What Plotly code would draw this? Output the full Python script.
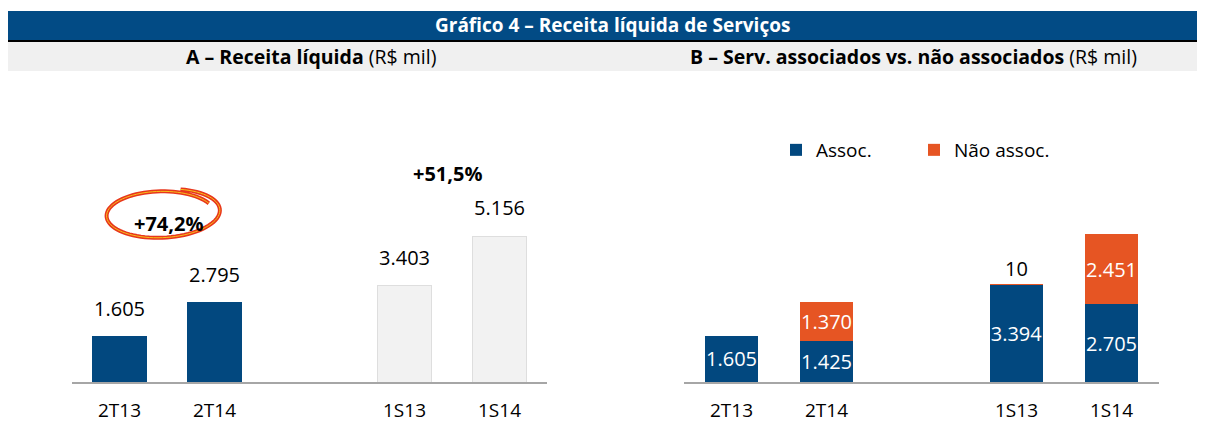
import math
import plotly.graph_objects as go

# ---------------- data ----------------
categories = ['2T13', '2T14', ' ', '1S13', '1S14']
receita = [1605, 2795, None, 3403, 5156]
assoc = [1605, 1425, None, 3394, 2705]
nao_assoc = [0, 1370, None, 10, 2451]
growth_q = '+74,2%'
growth_s = '+51,5%'
series_names = ['Assoc.', 'Não assoc.']

# ---------------- helpers ----------------
OFF = 8                      # page body margin
W, H = 1205 - OFF, 422 - OFF
FONT = 'Open Sans'
BLUE = '#02487f'
ORANGE = '#e65523'
LIGHT = '#f2f2f2'


def px(x):
    return (x - OFF) / W


def py(y):
    return 1 - (y - OFF) / H


def fmt(v):
    return f"{v:,}".replace(',', '.')


fig = go.Figure()

# Panel A
left_colors = [BLUE, BLUE, LIGHT, LIGHT, LIGHT]
left_lines = [BLUE, BLUE, '#dedede', '#dedede', '#dedede']
fig.add_trace(go.Bar(
    x=categories, y=receita, width=0.56,
    marker=dict(color=left_colors, line=dict(color=left_lines, width=1)),
    xaxis='x', yaxis='y', showlegend=False, hoverinfo='skip'))


# Panel B
def inside_txt(vals):
    return [fmt(v) if (v is not None and v >= 500) else '' for v in vals]


for vals, name, col in [(assoc, series_names[0], BLUE), (nao_assoc, series_names[1], ORANGE)]:
    fig.add_trace(go.Bar(
        x=categories, y=vals, width=0.56, name=name,
        marker=dict(color=col, line=dict(width=0)),
        text=inside_txt(vals), textposition='inside', insidetextanchor='middle',
        textangle=0, constraintext='none',
        insidetextfont=dict(color='white', size=20, family=FONT),
        xaxis='x2', yaxis='y2', hoverinfo='skip'))

annotations = []
# value labels above bars in panel A
for c, v in zip(categories, receita):
    if v is None:
        continue
    annotations.append(dict(x=c, y=v, xref='x', yref='y', text=fmt(v),
                            showarrow=False, yanchor='bottom', yshift=13,
                            font=dict(size=20, color='#000000', family=FONT)))
# small segment labels above bars in panel B
for c, a, n in zip(categories, assoc, nao_assoc):
    if n is None or n == 0 or n >= 500:
        continue
    annotations.append(dict(x=c, y=a + n, xref='x2', yref='y2', text=fmt(n),
                            showarrow=False, yanchor='bottom', yshift=0,
                            font=dict(size=20, color='#000000', family=FONT)))


def paper_text(x, y, text, size, color='#000000'):
    return dict(x=px(x), y=py(y), xref='paper', yref='paper', text=text,
                showarrow=False, xanchor='center', yanchor='middle',
                font=dict(size=size, color=color, family=FONT))


annotations.append(paper_text(168, 223, f'<b>{growth_q}</b>', 20))
annotations.append(paper_text(447, 173, f'<b>{growth_s}</b>', 20))
annotations.append(paper_text(612, 25.5, '<b>Gráfico 4 – Receita líquida de Serviços</b>', 19, 'white'))
annotations.append(paper_text(311, 57, '<b>A – Receita líquida</b> (R$ mil)', 19.5))
annotations.append(paper_text(913, 57, '<b>B – Serv. associados vs. não associados</b> (R$ mil)', 19.5))

shapes = [
    dict(type='rect', xref='paper', yref='paper', x0=px(7), x1=px(1200),
         y0=py(40), y1=py(11), fillcolor='#024b85', line=dict(width=0), layer='below'),
    dict(type='rect', xref='paper', yref='paper', x0=px(7), x1=px(1200),
         y0=py(42), y1=py(40), fillcolor='#000000', line=dict(width=0), layer='below'),
    dict(type='rect', xref='paper', yref='paper', x0=px(7), x1=px(1200),
         y0=py(71), y1=py(42), fillcolor='#f0f0f0', line=dict(width=0), layer='below'),
]

# hand-drawn circle around the quarterly growth label
cx, cy, rx, ry = 162, 214, 55, 23
pts = []
n = 90
start, total = -0.5, 2 * math.pi + 0.75
for i in range(n + 1):
    s = i / n
    t = start - total * s
    f = 0.97 + 0.10 * s
    x = cx + rx * f * math.cos(t)
    y = cy + ry * f * math.sin(t) - 4 * math.cos(t) * s
    pts.append((x, y))
path = 'M ' + ' L '.join(f'{px(x):.5f},{py(y):.5f}' for x, y in pts)
shapes.append(dict(type='path', xref='paper', yref='paper', path=path,
                   line=dict(color='#e8361c', width=4)))
shapes.append(dict(type='path', xref='paper', yref='paper', path=path,
                   line=dict(color='#f7c21a', width=1)))

common_x = dict(type='category', categoryorder='array', categoryarray=categories,
                range=[-0.5, 4.5], showline=True, linecolor='#a6a6a6', linewidth=2,
                ticks='', showgrid=False, zeroline=False, fixedrange=True,
                tickfont=dict(size=19, color='#000000', family=FONT),
                ticklabelstandoff=10)
common_y = dict(visible=False, showgrid=False, zeroline=False, fixedrange=True)

fig.update_layout(
    width=W, height=H, margin=dict(l=0, r=0, t=0, b=0),
    paper_bgcolor='white', plot_bgcolor='white',
    barmode='stack', bargap=0.44,
    font=dict(family=FONT, size=20, color='#000000'),
    xaxis=dict(domain=[px(72), px(547)], anchor='y', **common_x),
    yaxis=dict(domain=[py(382), py(100)], anchor='x', range=[0, 282 / 0.0283], **common_y),
    xaxis2=dict(domain=[px(684), px(1159)], anchor='y2', **common_x),
    yaxis2=dict(domain=[py(382), py(100)], anchor='x2', range=[0, 282 / 0.0287], **common_y),
    legend=dict(orientation='h', x=px(776), y=py(131), xanchor='left', yanchor='top',
                font=dict(size=19, family=FONT), entrywidth=93,
                bgcolor='rgba(0,0,0,0)', traceorder='normal'),
    annotations=annotations, shapes=shapes,
)

fig.write_html('out.html')
